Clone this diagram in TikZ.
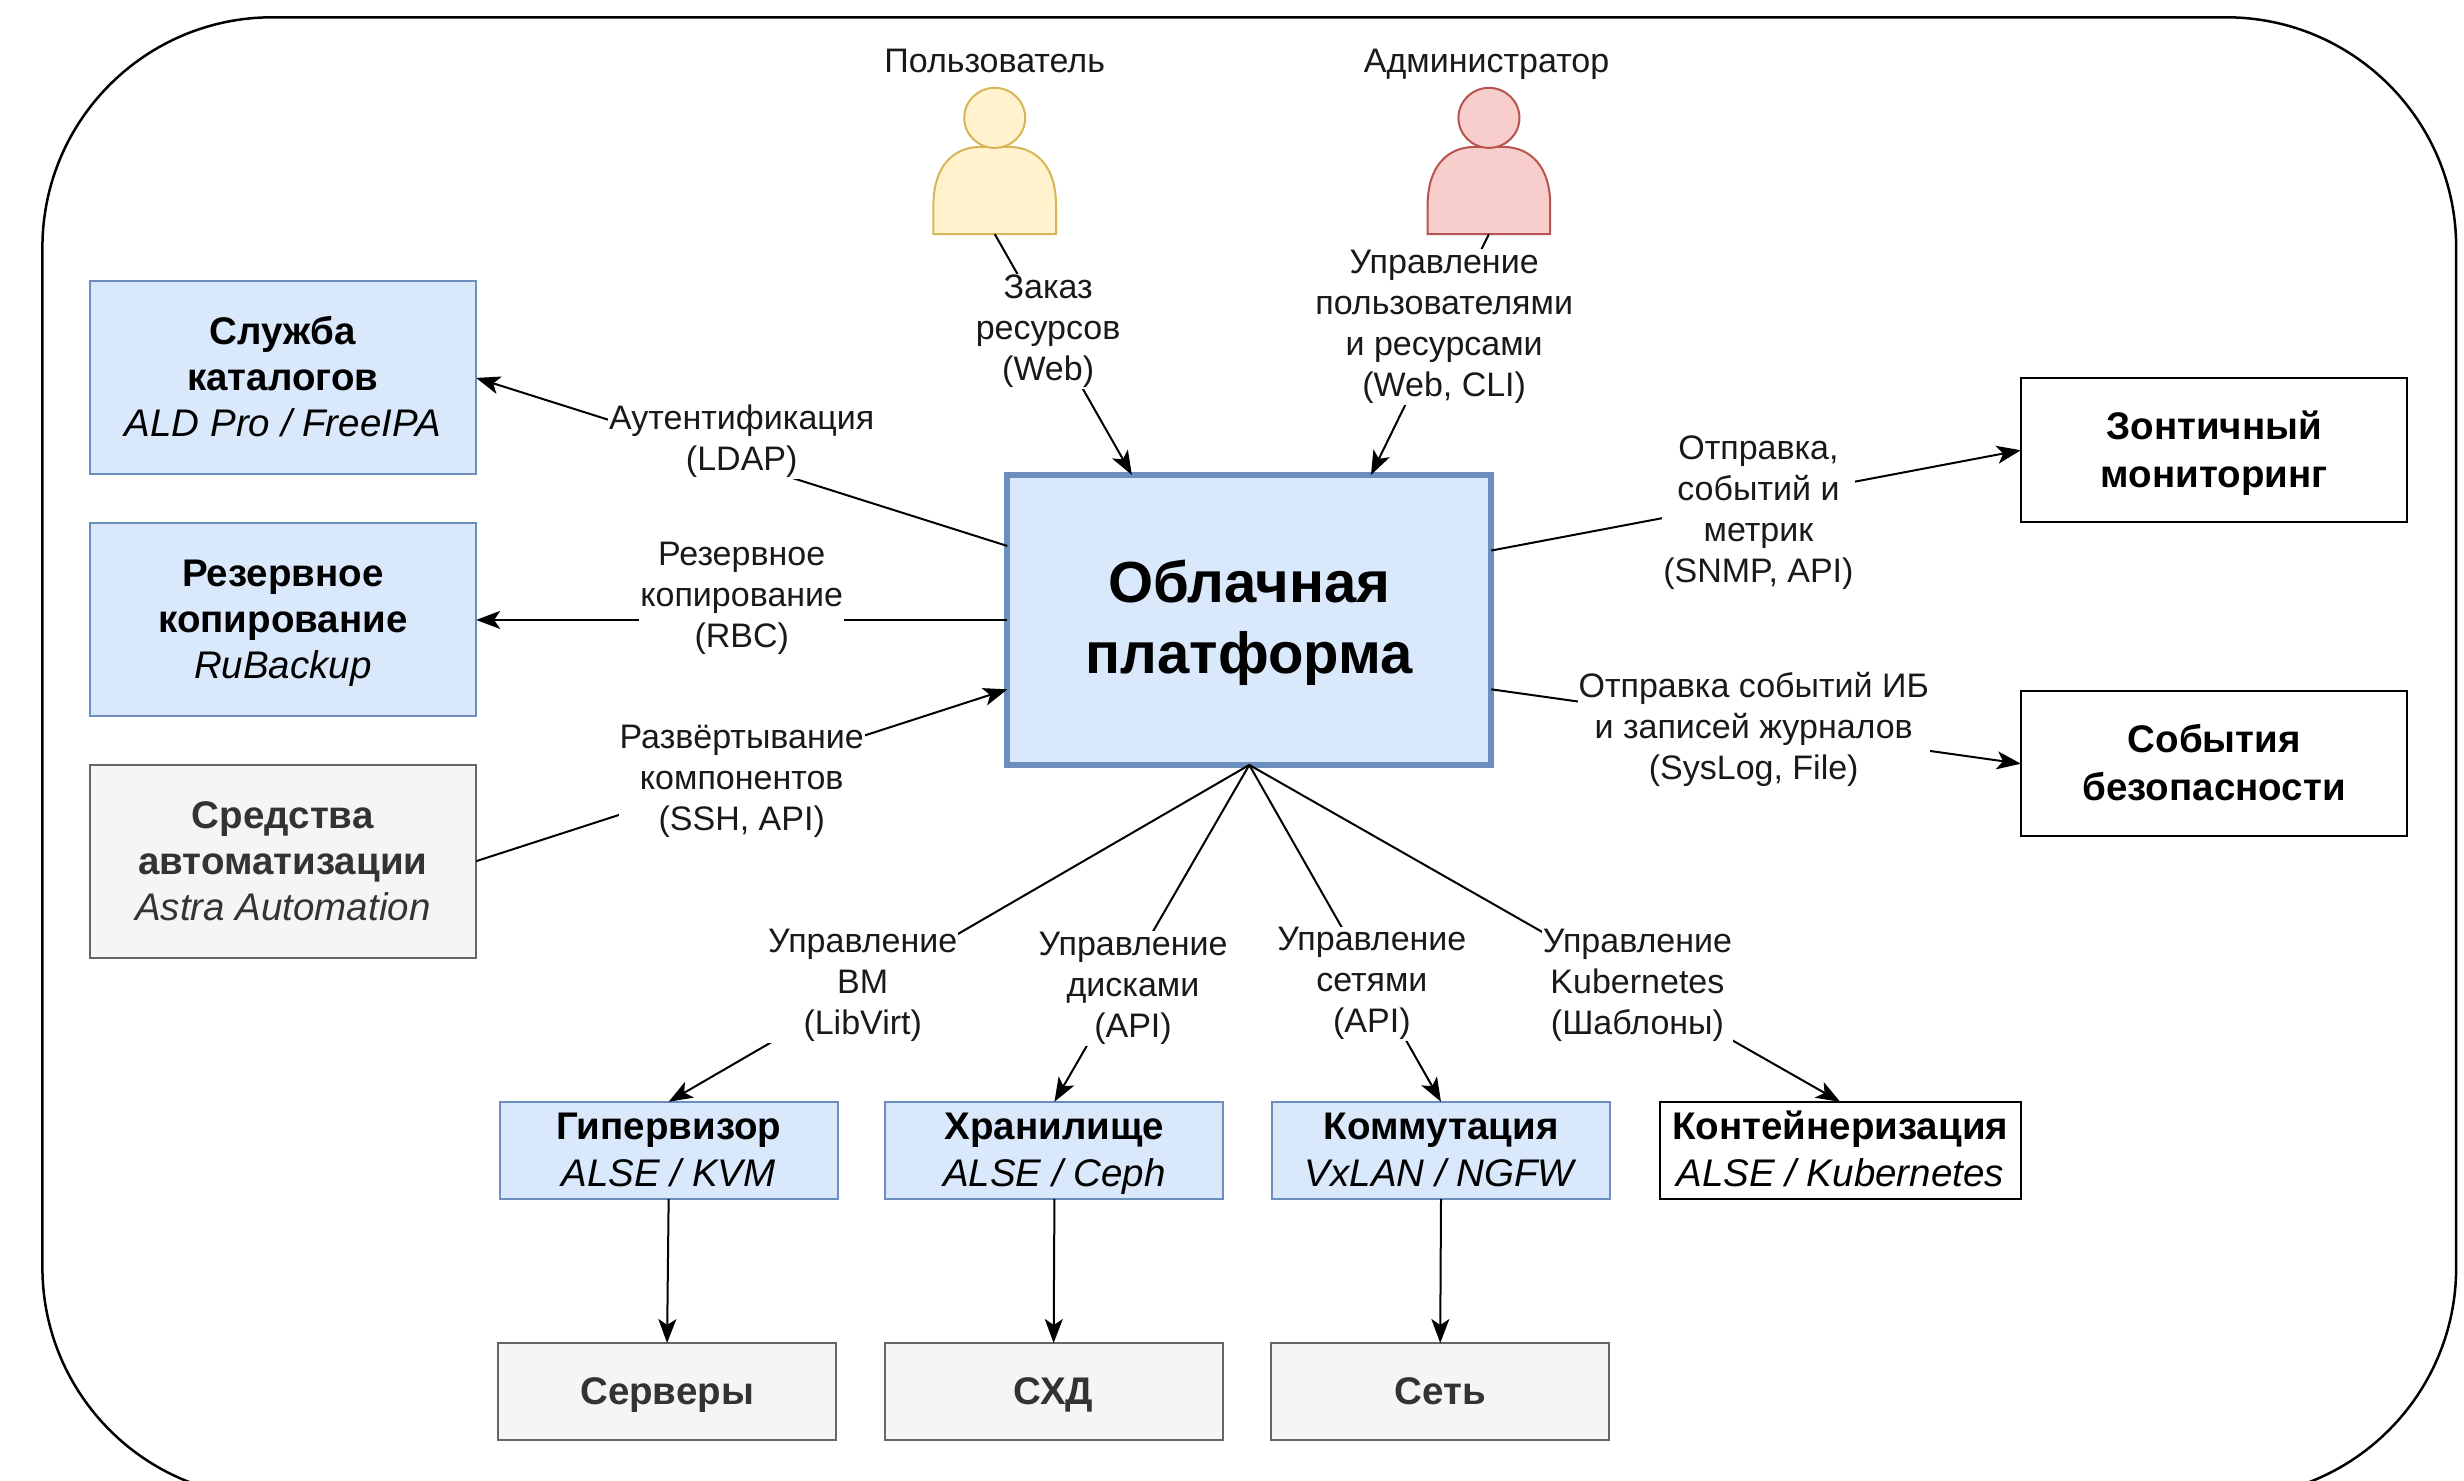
\documentclass[tikz,border=0pt]{standalone}
\usepackage{fontspec}
\setmainfont{Liberation Sans}
\usetikzlibrary{arrows.meta}
\definecolor{bluefill}{HTML}{DAE8FC}
\definecolor{bluedraw}{HTML}{6C8EBF}
\definecolor{greyfill}{HTML}{F5F5F5}
\definecolor{greydraw}{HTML}{666666}
\definecolor{greytext}{HTML}{333333}
\definecolor{yelfill}{HTML}{FFF2CC}
\definecolor{yeldraw}{HTML}{D6B656}
\definecolor{redfill}{HTML}{F8CECC}
\definecolor{reddraw}{HTML}{B85450}
\newcommand{\boxfont}{\fontsize{38.5}{46}\selectfont}
\newcommand{\smallbox}{\fontsize{38.5}{47}\selectfont}
\newcommand{\twobox}{\fontsize{38.5}{48}\selectfont}
\newcommand{\labfont}{\fontsize{34}{41}\selectfont}
\newcommand{\bl}{\rule[-10pt]{0pt}{46pt}}
\tikzset{
  x=1.5714pt,y=-1.5714pt,
  base/.style={rectangle,align=center,line width=2pt,outer sep=0pt,inner sep=0pt},
  bluebox/.style={base,draw=bluedraw,fill=bluefill,font=\boxfont},
  greybox/.style={base,draw=greydraw,fill=greyfill,text=greytext,font=\boxfont},
  plainbox/.style={base,draw=black,fill=white,font=\boxfont},
  wide/.style={minimum width=386.6pt,minimum height=193pt},
  mid/.style={minimum width=386.6pt,minimum height=144.5pt},
  lowbox/.style={minimum width=338pt,minimum height=97pt},
  conn/.style={line width=2pt,-{Stealth[length=24pt,width=18pt,inset=6pt]}},
  lab/.style={fill=white,align=center,font=\labfont,inner sep=1pt,outer sep=0pt,text=black!90},
  txt/.style={align=center,font=\labfont,inner sep=0pt,text=black!90},
  person/.style={rectangle,minimum width=122.5pt,minimum height=146pt,inner sep=0pt,outer sep=0pt},
}
\newcommand{\personshape}[4]{%
  \draw[line width=2pt,draw=#4,fill=#3] (#1-39,#2+46.5) -- (#1-39,#2+28)
     .. controls (#1-39,#2+4) and (#1-27,#2-8.5) .. (#1-10,#2-9)
     -- (#1+10,#2-9) .. controls (#1+27,#2-8.5) and (#1+39,#2+4) .. (#1+39,#2+28)
     -- (#1+39,#2+46.5) -- cycle;
  \draw[line width=2pt,draw=#4,fill=#3] (#1,#2-27.5) ellipse [x radius=30.5pt,y radius=30pt];
}
\begin{document}
\begin{tikzpicture}
\clip (0,0) rectangle (1568,942.45);
\fill[white] (0,0) rectangle (1568,942.45);
\draw[line width=2.5pt] (27,953) [rounded corners=230pt] -- (27,11) -- (1563,11) -- (1563,953) -- cycle;

% persons
\node[person] (user) at (633,102.5) {};
\node[person] (admin) at (947.5,102.5) {};
\personshape{633}{102.5}{yelfill}{yeldraw}
\personshape{947.5}{102.5}{redfill}{reddraw}
\node[txt] (userlab) at (633,39) {Пользователь};
\node[txt] (adminlab) at (946,41) {Администратор};

% boxes
\node[base,draw=bluedraw,fill=bluefill,line width=6pt,minimum width=484pt,minimum height=290pt,font=\fontsize{58}{70.5}\selectfont\bfseries] (main) at (795,394.5) {\rule{0pt}{48pt}Облачная\\платформа};
\node[bluebox,wide] (ldap) at (180,240.5) {\bl\textbf{Служба}\\\bl\textbf{каталогов}\\\bl\textit{ALD Pro / FreeIPA}};
\node[bluebox,wide] (backup) at (180,394.5) {\bl\textbf{Резервное}\\\bl\textbf{копирование}\\\bl\textit{RuBackup}};
\node[greybox,wide] (auto) at (180,548) {\bl\textbf{Средства}\\\bl\textbf{автоматизации}\\\bl\textit{Astra Automation}};
\node[plainbox,mid,font=\twobox] (mon) at (1409,286.5) {\bl\textbf{Зонтичный}\\\bl\textbf{мониторинг}};
\node[plainbox,mid,font=\twobox] (sec) at (1409,486) {\bl\textbf{События}\\\bl\textbf{безопасности}};
\node[bluebox,lowbox,font=\smallbox] (hyp) at (425.5,732) {\bl\textbf{Гипервизор}\\\bl\textit{ALSE / KVM}};
\node[bluebox,lowbox,font=\smallbox] (stor) at (671,732) {\bl\textbf{Хранилище}\\\bl\textit{ALSE / Ceph}};
\node[bluebox,lowbox,font=\smallbox] (net) at (917,732) {\bl\textbf{Коммутация}\\\bl\textit{VxLAN / NGFW}};
\node[plainbox,minimum width=361pt,minimum height=97pt,font=\smallbox] (kube) at (1171,732) {\bl\textbf{Контейнеризация}\\\bl\textit{ALSE / Kubernetes}};
\node[greybox,lowbox] (srv) at (424.5,885.5) {\bl\textbf{Серверы}};
\node[greybox,lowbox] (san) at (670.5,885.5) {\bl\textbf{СХД}};
\node[greybox,lowbox] (lan) at (916.5,885.5) {\bl\textbf{Сеть}};

% connectors
\draw[conn] (user.south) -- (main.129.8);
\draw[conn] (admin.south) -- (main.50.6);
\draw[conn] (main.163.2) -- (ldap.east);
\draw[conn] (main.west) -- (backup.east);
\draw[conn] (auto.east) -- (main.196.5);
\draw[conn] (main.16.8) -- (mon.west);
\draw[conn] (main.-16.5) -- (sec.west);
\draw[conn] (main.south) -- (hyp.north);
\draw[conn] (main.south) -- (stor.north);
\draw[conn] (main.south) -- (net.north);
\draw[conn] (main.south) -- (kube.north);
\draw[conn] (hyp.south) -- (srv.north);
\draw[conn] (stor.south) -- (san.north);
\draw[conn] (net.south) -- (lan.north);

% connector labels
\node[lab] (l1) at (667,211) {Заказ\\ресурсов\\(Web)};
\node[lab] (l2) at (919,208) {Управление\\пользователями\\и ресурсами\\(Web, CLI)};
\node[lab] (l3) at (472,281) {Аутентификация\\(LDAP)};
\node[lab] (l4) at (472,381) {Резервное\\копирование\\(RBC)};
\node[lab] (l5) at (472,497) {Развёртывание\\компонентов\\(SSH, API)};
\node[lab] (l6) at (1119,326) {Отправка,\\событий и\\метрик\\(SNMP, API)};
\node[lab] (l7) at (1116,464) {Отправка событий ИБ\\и записей журналов\\(SysLog, File)};
\node[lab] (l8) at (549,627) {Управление\\ВМ\\(LibVirt)};
\node[lab] (l9) at (721,629) {Управление\\дисками\\(API)};
\node[lab] (l10) at (873,626) {Управление\\сетями\\(API)};
\node[lab] (l11) at (1042,627) {Управление\\Kubernetes\\(Шаблоны)};
\end{tikzpicture}
\end{document}
